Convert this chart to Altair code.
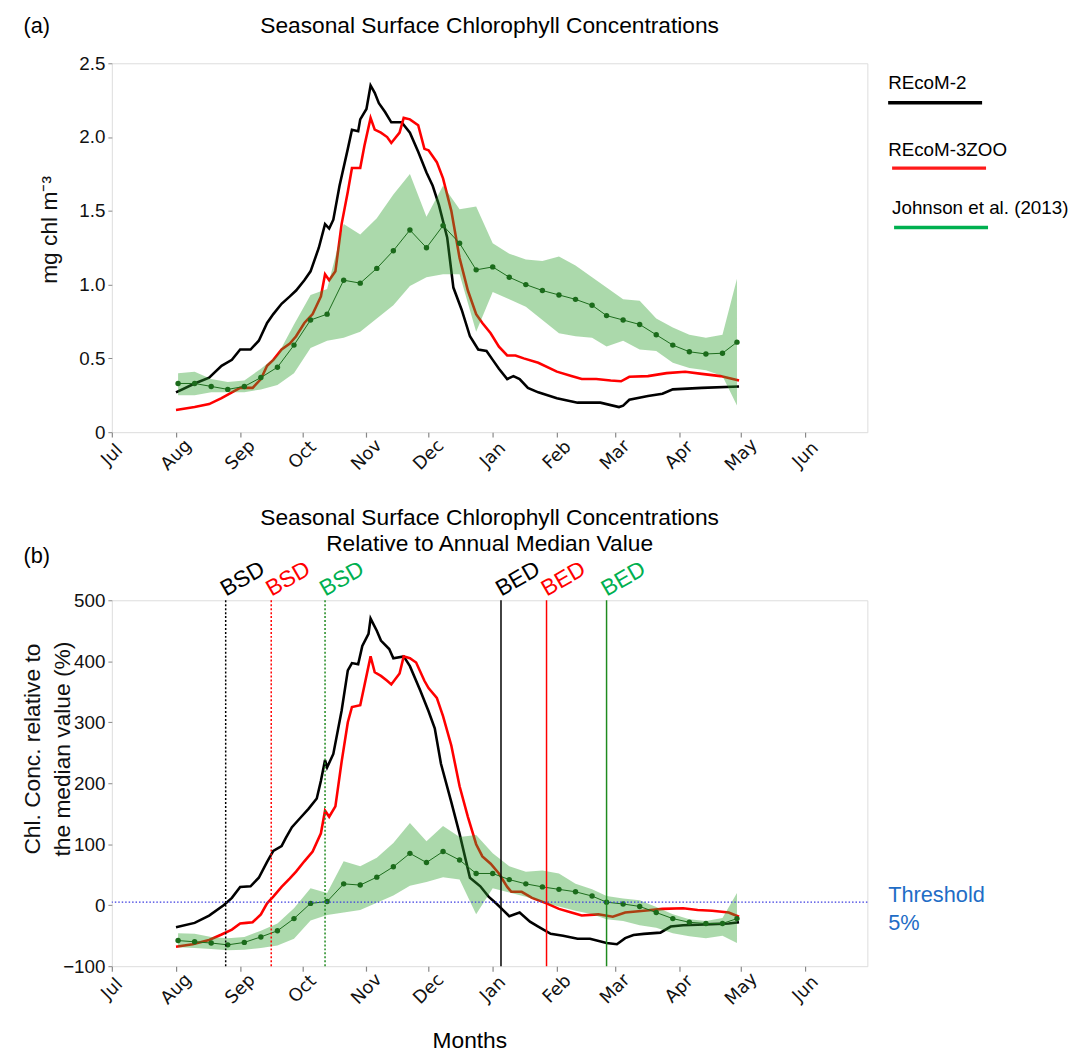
import altair as alt
import pandas as pd

# ---------------- axis ticks ----------------
MONTH_TICKS = [0, 31, 62, 92, 123, 153, 184, 215, 243, 274, 304, 335]   # days since 1 Jul
MONTH_NAMES = ["Jul", "Aug", "Sep", "Oct", "Nov", "Dec", "Jan", "Feb", "Mar", "Apr", "May", "Jun"]
Y_TICKS_A = [0, 0.5, 1.0, 1.5, 2.0, 2.5]
Y_TICKS_B = [-100, 0, 100, 200, 300, 400, 500]

# ---------------- panel (a): chlorophyll (mg chl m-3) ----------------
recom2_a_day = [31, 40, 47, 53, 58, 62, 67, 71, 75, 78, 82, 86, 89, 93, 96, 100, 103, 105, 107, 110,
                114, 116, 119, 120, 123, 125, 127, 129, 132, 135, 140, 144, 148, 152, 155, 158, 162, 165,
                169, 173, 177, 181, 184, 187, 191, 194, 197, 201, 206, 215, 225, 236, 245, 247, 250, 259,
                266, 271, 285, 303]
recom2_a_val = [0.27, 0.33, 0.37, 0.45, 0.49, 0.56, 0.56, 0.62, 0.74, 0.80, 0.87, 0.92, 0.96, 1.03, 1.09,
                1.25, 1.41, 1.38, 1.44, 1.67, 1.92, 2.05, 2.04, 2.12, 2.19, 2.35, 2.30, 2.23, 2.17, 2.10,
                2.10, 2.03, 1.90, 1.76, 1.67, 1.54, 1.32, 0.98, 0.83, 0.65, 0.56, 0.55, 0.49, 0.43, 0.36,
                0.38, 0.36, 0.30, 0.27, 0.23, 0.20, 0.20, 0.17, 0.18, 0.22, 0.245, 0.26, 0.29, 0.30, 0.31]

recom3_a_day = [31, 40, 47, 53, 58, 62, 68, 72, 75, 78, 82, 86, 89, 93, 97, 101, 103, 105, 108, 111,
                114, 116, 120, 122, 125, 127, 130, 133, 135, 139, 141, 144, 148, 151, 153, 157, 160, 164,
                168, 172, 176, 179, 183, 187, 191, 195, 199, 206, 215, 222, 227, 234, 241, 246, 250, 259,
                268, 277, 285, 294, 303]
recom3_a_val = [0.15, 0.17, 0.19, 0.23, 0.27, 0.30, 0.30, 0.36, 0.45, 0.49, 0.56, 0.60, 0.65, 0.74, 0.80,
                0.92, 1.07, 1.03, 1.09, 1.41, 1.63, 1.79, 1.79, 1.94, 2.13, 2.05, 2.03, 2.00, 1.96, 2.03,
                2.13, 2.12, 2.08, 1.92, 1.91, 1.83, 1.72, 1.50, 1.18, 0.96, 0.80, 0.74, 0.67, 0.58, 0.52,
                0.52, 0.50, 0.47, 0.41, 0.38, 0.36, 0.36, 0.35, 0.345, 0.375, 0.38, 0.40, 0.41, 0.395,
                0.38, 0.35]

johnson_day = [32, 40, 48, 56, 64, 72, 80, 88, 96, 104, 112, 120, 128, 136, 144, 152, 160, 168, 176,
               184, 192, 200, 208, 216, 224, 232, 239, 247, 255, 263, 271, 279, 287, 295, 302]
johnson_a_val = [0.33, 0.33, 0.31, 0.29, 0.31, 0.37, 0.44, 0.59, 0.76, 0.80, 1.03, 1.01, 1.11, 1.23,
                 1.37, 1.25, 1.40, 1.28, 1.10, 1.12, 1.05, 1.00, 0.96, 0.93, 0.90, 0.86, 0.79, 0.76,
                 0.73, 0.66, 0.59, 0.545, 0.53, 0.535, 0.61]
johnson_a_low = [0.25, 0.25, 0.27, 0.27, 0.27, 0.29, 0.32, 0.40, 0.57, 0.62, 0.64, 0.68, 0.77, 0.86,
                 0.99, 1.05, 1.07, 1.07, 0.68, 0.95, 0.90, 0.85, 0.76, 0.67, 0.65, 0.64, 0.58, 0.62,
                 0.56, 0.55, 0.47, 0.435, 0.42, 0.38, 0.18]
johnson_a_high = [0.40, 0.41, 0.36, 0.34, 0.35, 0.43, 0.52, 0.73, 0.93, 0.97, 1.41, 1.34, 1.45, 1.61,
                  1.75, 1.46, 1.67, 1.51, 1.53, 1.28, 1.21, 1.17, 1.16, 1.19, 1.13, 1.05, 0.98, 0.90,
                  0.89, 0.77, 0.71, 0.66, 0.64, 0.66, 1.04]

# ---------------- panel (b): relative to annual median (%) ----------------
recom2_b_day = [31, 40, 47, 54, 58, 62, 67, 71, 75, 78, 82, 84, 87, 91, 95, 99, 101, 103, 104, 107,
                111, 114, 116, 119, 121, 124, 125, 128, 130, 134, 136, 141, 144, 149, 153, 156, 159, 164,
                168, 173, 178, 182, 186, 189, 192, 197, 202, 206, 212, 218, 225, 231, 239, 244, 248, 252,
                257, 265, 270, 276, 283, 290, 298, 303]
recom2_b_val = [-36, -29, -17, 0, 12, 30, 31, 45, 71, 89, 97, 110, 128, 143, 158, 175, 204, 238, 226, 248,
                319, 385, 397, 395, 425, 445, 470, 450, 434, 420, 405, 408, 392, 352, 318, 290, 232, 169,
                117, 45, 31, 14, 2, -8, -18, -12, -27, -35, -47, -50, -55, -55, -62, -64, -54, -49,
                -47, -45, -35, -33, -32, -31, -30, -28]

recom3_b_day = [31, 39, 47, 53, 58, 62, 65, 68, 72, 75, 78, 82, 86, 89, 93, 97, 101, 103, 105, 108,
                111, 114, 116, 120, 122, 125, 127, 130, 133, 135, 139, 141, 144, 147, 151, 153, 157, 160,
                164, 168, 172, 176, 179, 183, 187, 191, 193, 198, 203, 210, 216, 222, 227, 235, 242, 248,
                257, 266, 276, 283, 290, 298, 303]
recom3_b_val = [-68, -64, -57, -48, -40, -30, -29, -28, -15, 3, 14, 30, 44, 55, 72, 88, 118, 155, 145, 162,
                235, 300, 325, 328, 360, 408, 382, 376, 368, 362, 380, 408, 405, 398, 368, 356, 340, 310,
                262, 195, 145, 100, 80, 68, 52, 30, 22, 22, 12, 3, -6, -12, -17, -15, -19, -12,
                -9, -6, -5, -8, -9, -12, -19]

johnson_b_val = [-58, -60, -62, -65, -61, -52, -42, -22, 3, 6, 35, 33, 46, 63, 85, 70, 88, 74, 52, 52,
                 42, 35, 30, 26, 22, 15, 5, 2, -2, -12, -22, -28, -30, -30, -22]
johnson_b_low = [-69, -70, -72, -74, -73, -70, -66, -55, -25, -16, -12, -8, 4, 16, 32, 38, 46, 42, -15, 28,
                 21, 14, 5, -2, -9, -15, -23, -26, -33, -37, -46, -51, -54, -50, -62]
johnson_b_high = [-46, -47, -52, -54, -52, -42, -30, -5, 28, 20, 72, 64, 78, 102, 135, 105, 130, 112, 115,
                  85, 64, 55, 57, 52, 35, 26, 15, 11, 8, -3, -15, -23, -26, -21, 20]

THRESHOLD = 5
markers_label = ["BSD", "BSD", "BSD", "BED", "BED", "BED"]
markers_day = [55, 77, 103, 188, 210, 239]
markers_line_color = ["#000000", "#ff0000", "#1f8a1f", "#000000", "#ff0000", "#1f8a1f"]
markers_text_color = ["#000000", "#ff0000", "#00b050", "#000000", "#ff0000", "#00b050"]
markers_dash = ["dot", "dot", "dot", "solid", "solid", "solid"]

legend_names = ["REcoM-2", "REcoM-3ZOO", "Johnson et al. (2013)"]
legend_colors = ["#000000", "#ff1a1a", "#00b050"]

# ---------------- styling ----------------
FONT = "Liberation Sans"
W_A, H_A = 764, 373
W_B, H_B = 764, 370
GREEN_DARK = "#1b6b1b"

label_expr = "[" + ",".join("'%s'" % m for m in MONTH_NAMES) + "][indexof([" + \
    ",".join(str(t) for t in MONTH_TICKS) + "], datum.value)]"

xscale = alt.Scale(domain=[0, 365], nice=False, zero=False)


def x_axis():
    return alt.Axis(values=MONTH_TICKS, labelExpr=label_expr, labelAngle=-45, labelAlign="center",
                    labelBaseline="middle", labelPadding=18, labelFont="DejaVu Sans", labelFontSize=18,
                    labelColor="#111111", tickSize=5, tickColor="#888888", tickWidth=1.2,
                    domain=False, grid=False, title=None)


one = pd.DataFrame({"k": [0]})


def txt(s, x, y, size=21, color="black", align="center", font=FONT):
    return alt.Chart(one).mark_text(text=s, fontSize=size, font=font, color=color, align=align,
                                    baseline="middle").encode(x=alt.value(x), y=alt.value(y))


# ---------------- panel (a) ----------------
df_r2a = pd.DataFrame({"day": recom2_a_day, "v": recom2_a_val})
df_r3a = pd.DataFrame({"day": recom3_a_day, "v": recom3_a_val})
df_ja = pd.DataFrame({"day": johnson_day, "v": johnson_a_val, "lo": johnson_a_low, "hi": johnson_a_high})

ya = alt.Scale(domain=[0, 2.5], nice=False, zero=False)
ya_axis = alt.Axis(values=Y_TICKS_A, labelExpr="datum.value == 0 ? '0' : format(datum.value, '.1f')",
                   labelFont=FONT, labelFontSize=19, labelColor="#111111", labelPadding=3,
                   tickSize=4, tickColor="#888888", domain=False, grid=False,
                   title="mg chl m\u207b\u00b3", titleFont=FONT, titleFontSize=23, titleFontWeight="normal",
                   titleAngle=270, titleX=-63, titleY=168, titleAlign="center", titleBaseline="middle",
                   titleColor="#111111")

r2a = alt.Chart(df_r2a).mark_line(color="black", strokeWidth=2.6).encode(
    x=alt.X("day:Q", scale=xscale, axis=x_axis()),
    y=alt.Y("v:Q", scale=ya, axis=ya_axis))
r3a = alt.Chart(df_r3a).mark_line(color="#ff0000", strokeWidth=2.6).encode(
    x=alt.X("day:Q", scale=xscale), y=alt.Y("v:Q", scale=ya))
band_a = alt.Chart(df_ja).mark_area(color="#2ca02c", opacity=0.4).encode(
    x=alt.X("day:Q", scale=xscale), y=alt.Y("lo:Q", scale=ya), y2="hi:Q")
ja = alt.Chart(df_ja).mark_line(color=GREEN_DARK, strokeWidth=1,
                                point=alt.OverlayMarkDef(filled=True, size=30, color=GREEN_DARK)).encode(
    x=alt.X("day:Q", scale=xscale), y=alt.Y("v:Q", scale=ya))

leg_y_text = [20, 88, 146]
leg_y_line = [40, 106, 166]
leg_x0 = [785, 789, 791]
leg_tx = [785, 785, 789]
leg_layers = []
for i, name in enumerate(legend_names):
    leg_layers.append(txt(name, leg_tx[i], leg_y_text[i], size=19, align="left"))
    leg_layers.append(alt.Chart(one).mark_rule(color=legend_colors[i], strokeWidth=3.5).encode(
        x=alt.value(leg_x0[i]), x2=alt.value(leg_x0[i] + 95), y=alt.value(leg_y_line[i])))

top = alt.layer(
    r2a, r3a, band_a, ja,
    txt("(a)", -76, -38, size=22),
    txt("Seasonal Surface Chlorophyll Concentrations", W_A / 2, -38, size=23),
    *leg_layers
).properties(width=W_A, height=H_A)

# ---------------- panel (b) ----------------
df_r2b = pd.DataFrame({"day": recom2_b_day, "v": recom2_b_val})
df_r3b = pd.DataFrame({"day": recom3_b_day, "v": recom3_b_val})
df_jb = pd.DataFrame({"day": johnson_day, "v": johnson_b_val, "lo": johnson_b_low, "hi": johnson_b_high})
df_mk = pd.DataFrame({"lab": markers_label, "day": markers_day, "lc": markers_line_color,
                      "tc": markers_text_color, "dash": markers_dash})

yb = alt.Scale(domain=[-100, 500], nice=False, zero=False)
yb_axis = alt.Axis(values=Y_TICKS_B, labelFont=FONT, labelFontSize=19, labelColor="#111111", labelPadding=3,
                   tickSize=4, tickColor="#888888", domain=False, grid=False,
                   title=["Chl. Conc. relative to", "the median value (%)"], titleFont=FONT, titleFontSize=23,
                   titleFontWeight="normal", titleAngle=270, titleX=-80, titleY=150, titleAlign="center",
                   titleBaseline="middle", titleLineHeight=30, titleColor="#111111")

r2b = alt.Chart(df_r2b).mark_line(color="black", strokeWidth=2.6).encode(
    x=alt.X("day:Q", scale=xscale, axis=x_axis()),
    y=alt.Y("v:Q", scale=yb, axis=yb_axis))
r3b = alt.Chart(df_r3b).mark_line(color="#ff0000", strokeWidth=2.6).encode(
    x=alt.X("day:Q", scale=xscale), y=alt.Y("v:Q", scale=yb))
band_b = alt.Chart(df_jb).mark_area(color="#2ca02c", opacity=0.4).encode(
    x=alt.X("day:Q", scale=xscale), y=alt.Y("lo:Q", scale=yb), y2="hi:Q")
jb = alt.Chart(df_jb).mark_line(color=GREEN_DARK, strokeWidth=1,
                                point=alt.OverlayMarkDef(filled=True, size=30, color=GREEN_DARK)).encode(
    x=alt.X("day:Q", scale=xscale), y=alt.Y("v:Q", scale=yb))

thr = alt.Chart(pd.DataFrame({"t": [THRESHOLD]})).mark_rule(
    color="#3a3ae0", strokeWidth=1.3, strokeDash=[1.5, 2]).encode(y=alt.Y("t:Q", scale=yb))

mk_dot = alt.Chart(df_mk).transform_filter("datum.dash == 'dot'").mark_rule(
    strokeWidth=1.5, strokeDash=[2, 2]).encode(
    x=alt.X("day:Q", scale=xscale), color=alt.Color("lc:N", scale=None))
mk_solid = alt.Chart(df_mk).transform_filter("datum.dash == 'solid'").mark_rule(
    strokeWidth=1.5).encode(
    x=alt.X("day:Q", scale=xscale), color=alt.Color("lc:N", scale=None))
mk_text = alt.Chart(df_mk).mark_text(fontSize=23, font=FONT, align="left", baseline="alphabetic",
                                     angle=330, dx=2, dy=-3).encode(
    x=alt.X("day:Q", scale=xscale), y=alt.value(0), text="lab:N", color=alt.Color("tc:N", scale=None))

bottom = alt.layer(
    r2b, r3b, band_b, jb, thr, mk_dot, mk_solid, mk_text,
    txt("(b)", -76, -45, size=22),
    txt("Seasonal Surface Chlorophyll Concentrations", W_B / 2, -83, size=23),
    txt("Relative to Annual Median Value", W_B / 2, -57, size=23),
    txt("Threshold", 785, 298, size=22, color="#1f6dc6", align="left"),
    txt("5%", 785, 326, size=22, color="#1f6dc6", align="left"),
    txt("Months", 362, 446, size=23),
).properties(width=W_B, height=H_B)

chart = alt.vconcat(top, bottom, spacing=170, bounds="flush").properties(
    padding={"left": 13, "top": 0, "right": 10, "bottom": 5}
).configure_view(stroke="#888888", strokeWidth=1.5).configure(background="white")

chart.save("out.html", embed_options={"renderer": "svg", "actions": False})
